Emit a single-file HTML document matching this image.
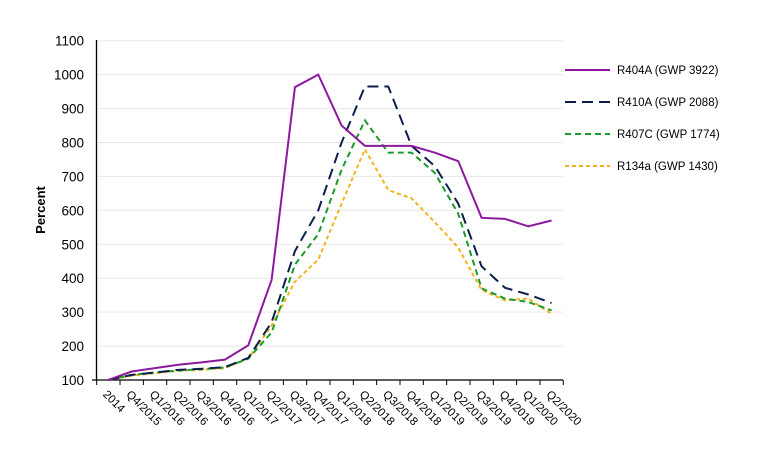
<!DOCTYPE html>
<html><head><meta charset="utf-8"><style>body{margin:0;background:#fff}svg{display:block}text{font-family:"Liberation Sans",sans-serif;fill:#000}</style></head><body>
<svg width="770" height="451" viewBox="0 0 770 451">
<g stroke="#e8e8e8" stroke-width="1">
<line x1="96" x2="563" y1="346.1" y2="346.1"/><line x1="96" x2="563" y1="312.1" y2="312.1"/><line x1="96" x2="563" y1="278.2" y2="278.2"/><line x1="96" x2="563" y1="244.3" y2="244.3"/><line x1="96" x2="563" y1="210.3" y2="210.3"/><line x1="96" x2="563" y1="176.4" y2="176.4"/><line x1="96" x2="563" y1="142.5" y2="142.5"/><line x1="96" x2="563" y1="108.6" y2="108.6"/><line x1="96" x2="563" y1="74.6" y2="74.6"/><line x1="96" x2="563" y1="40.7" y2="40.7"/>
</g>
<g stroke="#000" stroke-width="1.3"><line x1="96.5" y1="40" x2="96.5" y2="380"/><line x1="92" y1="380" x2="563" y2="380"/></g>
<g id="tk" stroke="#000" stroke-width="1"></g>
<g font-size="13.5" text-anchor="end" id="yl"></g>
<text transform="translate(45,210) rotate(-90)" font-size="13" font-weight="bold" text-anchor="middle">Percent</text>
<g id="xl" font-size="11.5"></g>
<g id="ser" fill="none"></g>
<g font-size="11.5">
<line x1="565" x2="610" y1="70" y2="70" stroke="#8b1a9e" stroke-width="2"/><text x="617" y="74">R404A (GWP 3922)</text>
<line x1="565" x2="610" y1="102" y2="102" stroke="#0d1f4d" stroke-width="2" stroke-dasharray="11,6"/><text x="617" y="106">R410A (GWP 2088)</text>
<line x1="565" x2="610" y1="134" y2="134" stroke="#1a9a2a" stroke-width="2" stroke-dasharray="6,4"/><text x="617" y="138">R407C (GWP 1774)</text>
<line x1="565" x2="610" y1="166" y2="166" stroke="#f5b21e" stroke-width="2" stroke-dasharray="4,3"/><text x="617" y="170">R134a (GWP 1430)</text>
</g>
</svg>
<script>
const NS="http://www.w3.org/2000/svg";
function el(p,t,a,tx){const e=document.createElementNS(NS,t);for(const k in a)e.setAttribute(k,a[k]);if(tx)e.textContent=tx;document.getElementById(p).appendChild(e);}
const Y=v=>380-(v-100)*0.3393, X=i=>108.3+23.33*i;
for(let v=100;v<=1100;v+=100)el("yl","text",{x:84,y:Y(v)+5},String(v));
for(let i=0;i<=20;i++)el("tk","line",{x1:96.7+23.33*i,x2:96.7+23.33*i,y1:380,y2:385});
const labs=["2014","Q4/2015","Q1/2016","Q2/2016","Q3/2016","Q4/2016","Q1/2017","Q2/2017","Q3/2017","Q4/2017","Q1/2018","Q2/2018","Q3/2018","Q4/2018","Q1/2019","Q2/2019","Q3/2019","Q4/2019","Q1/2020","Q2/2020"];
labs.forEach((l,i)=>el("xl","text",{transform:`translate(${X(i)-6},395) rotate(45)`},l));
const S=[
["#f5b21e","4,3",[100,113,120,127,130,135,163,260,390,455,620,780,660,635,565,490,365,335,340,295]],
["#1a9a2a","6,4",[100,115,122,128,132,137,163,240,440,530,720,865,770,770,710,590,370,340,330,305]],
["#0d1f4d","11,6",[100,115,122,130,133,138,165,270,480,600,800,965,965,790,730,620,435,372,352,327]],
["#8b1a9e","",[100,125,135,145,152,160,202,395,963,1000,850,790,790,790,770,745,578,575,553,570]]];
S.forEach(([c,d,v])=>el("ser","polyline",{stroke:c,"stroke-width":2,"stroke-dasharray":d||"none",points:v.map((y,i)=>X(i)+","+Y(y)).join(" ")}));
</script>
</body></html>
